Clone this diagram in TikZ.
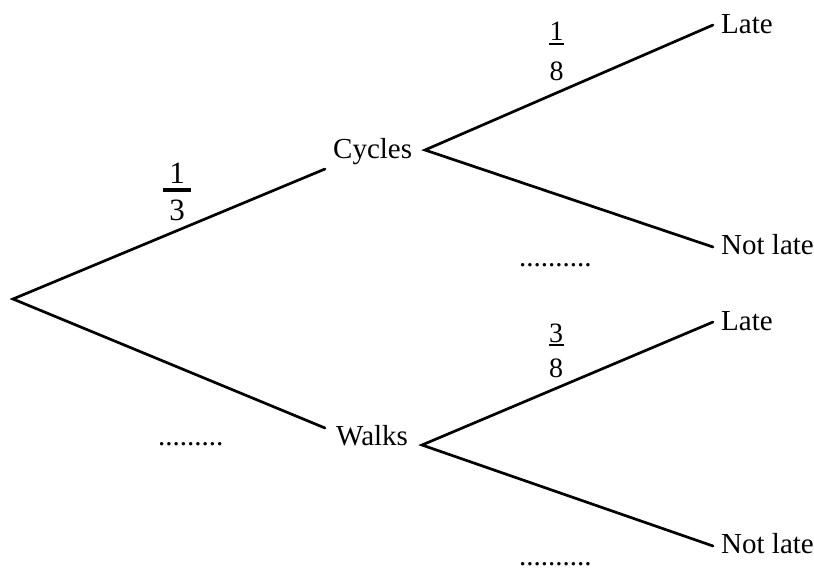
\documentclass[tikz,border=0pt]{standalone}
\usepackage{fontspec}
\setmainfont{Liberation Serif}
\begin{document}
\begin{tikzpicture}[x=1pt,y=-1pt,
  lbl/.style={inner sep=0, anchor=base west, font=\fontsize{29}{31}\selectfont},
  dig/.style={inner sep=0, anchor=base, font=\fontsize{28}{30}\selectfont},
  digbig/.style={inner sep=0, anchor=base, font=\fontsize{31}{33}\selectfont},
  dotsty/.style={inner sep=0, anchor=base west, font=\fontsize{29}{31}\selectfont},
  br/.style={line width=2.7pt, line cap=round, line join=miter},
  fbar/.style={line width=2pt},
  fbarthick/.style={line width=3.6pt}]
\useasboundingbox (0,0) rectangle (814,568);
% vertices
\coordinate (root) at (13,299);
\coordinate (cend) at (325,169);
\coordinate (wend) at (325,428);
\coordinate (cv) at (425,150);
\coordinate (wv) at (422,445);
\coordinate (cl) at (713,25);
\coordinate (cn) at (713,247);
\coordinate (wl) at (713,322);
\coordinate (wn) at (713,546);
% labels
\node[lbl] (cyc) at (333,158) {Cycles};
\node[lbl] (walk) at (336,445) {Walks};
\node[lbl] (late1) at (721,33) {Late};
\node[lbl] (nl1) at (721,254) {Not late};
\node[lbl] (late2) at (721,330) {Late};
\node[lbl] (nl2) at (721,553) {Not late};
% branches
\draw[br] (cend) -- (root) -- (wend);
\draw[br] (cl) -- (cv) -- (cn);
\draw[br] (wl) -- (wv) -- (wn);
% fractions
\node[digbig] (n13) at (177,183) {1};
\node[digbig] (d13) at (177,220) {3};
\draw[fbarthick] (163,190) -- (191,190);
\node[dig] (n18) at (556.5,40) {1};
\node[dig] (d18) at (556.5,80) {8};
\draw[fbar] (549,43.5) -- (564,43.5);
\node[dig] (n38) at (556,342) {3};
\node[dig] (d38) at (556,377) {8};
\draw[fbar] (548.5,345) -- (563.5,345);
% blanks
\node[dotsty] (b1) at (519,266) {..........};
\node[dotsty] (b2) at (158,445) {.........};
\node[dotsty] (b3) at (519,565) {..........};
\end{tikzpicture}
\end{document}
